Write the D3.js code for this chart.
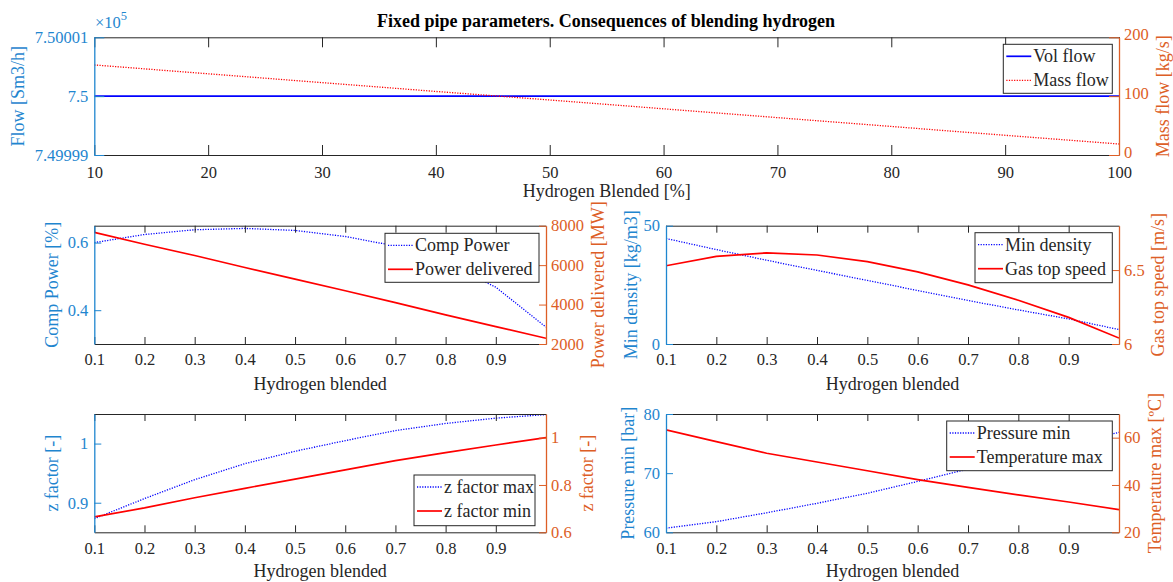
<!DOCTYPE html>
<html><head><meta charset="utf-8">
<script src="https://cdn.jsdelivr.net/npm/d3@7/dist/d3.min.js"></script>
<style>
body{margin:0;background:#fff;}
svg{font-family:"Liberation Serif","Times New Roman",serif;display:block;}
</style></head><body>
<svg id="c" width="1173" height="582"></svg>
<script>
// ---------- data ----------
const title = "Fixed pipe parameters. Consequences of blending hydrogen";
const pctBlended = [10, 20, 30, 40, 50, 60, 70, 80, 90, 100];
const pctTicks = [10, 20, 30, 40, 50, 60, 70, 80, 90, 100];
const volFlow = [750000, 750000, 750000, 750000, 750000, 750000, 750000, 750000, 750000, 750000];
const massFlow = [153, 138, 123, 108, 93.5, 78.5, 63.5, 48.5, 33.5, 18.7];
const flowTicks = [7.49999, 7.5, 7.50001];
const massTicks = [0, 100, 200];

const h2Frac = [0.1, 0.2, 0.3, 0.4, 0.5, 0.6, 0.7, 0.8, 0.9, 1.0];
const fracTicks = [0.1, 0.2, 0.3, 0.4, 0.5, 0.6, 0.7, 0.8, 0.9];

const compPower = [0.600, 0.624, 0.638, 0.642, 0.636, 0.618, 0.590, 0.540, 0.468, 0.350];
const powerDelivered = [7665, 7060, 6490, 5880, 5290, 4700, 4100, 3480, 2880, 2290];
const compTicks = [0.4, 0.6];
const powerTicks = [2000, 4000, 6000, 8000];

const minDensity = [44.6, 39.9, 35.4, 31.1, 26.9, 22.6, 18.4, 14.4, 10.6, 6.1];
const gasTopSpeed = [6.529, 6.593, 6.616, 6.602, 6.557, 6.488, 6.400, 6.296, 6.180, 6.040];
const densTicks = [0, 50];
const speedTicks = [6, 6.5];

const zMax = [0.873, 0.907, 0.939, 0.966, 0.987, 1.005, 1.022, 1.034, 1.043, 1.049];
const zMin = [0.665, 0.703, 0.746, 0.786, 0.825, 0.864, 0.903, 0.937, 0.969, 1.000];
const zLeftTicks = [0.9, 1];
const zRightTicks = [0.6, 0.8, 1];

const pressureMin = [60.7, 61.8, 63.3, 64.9, 66.6, 68.6, 70.7, 72.7, 74.8, 76.9];
const temperatureMax = [63.3, 58.3, 53.4, 49.7, 46.0, 42.3, 39.0, 35.8, 32.8, 29.6];
const presTicks = [60, 70, 80];
const tempTicks = [20, 40, 60];

// ---------- styles ----------
const DARK = "#262626";
const LBLUE = "#1f86cf";
const ORANGE = "#dd5e26";
const BLUE = "#0000ff";
const RED = "#ff0000";
const TICKFS = 16.5, LABELFS = 18, LEGFS = 18;

const svg = d3.select("#c");
let clipId = 0;

function panel(p) {
  const g = svg.append("g");
  const xs = d3.scaleLinear().domain(p.xDomain).range([p.x0, p.x1]);
  const yl = d3.scaleLinear().domain(p.left.domain).range([p.y1, p.y0]);
  const yr = d3.scaleLinear().domain(p.right.domain).range([p.y1, p.y0]);
  const tl = p.tickLen;

  const id = "clip" + (clipId++);
  svg.append("clipPath").attr("id", id).append("rect")
    .attr("x", p.x0).attr("y", p.y0).attr("width", p.x1 - p.x0).attr("height", p.y1 - p.y0);

  const lg = g.append("g").attr("clip-path", `url(#${id})`);
  p.series.forEach(s => {
    const ys = s.axis === "left" ? yl : yr;
    const line = d3.line().x((d, i) => xs(s.x[i])).y(d => ys(d));
    lg.append("path").datum(s.y).attr("d", line)
      .attr("fill", "none").attr("stroke", s.color)
      .attr("stroke-width", s.dash ? 1.3 : 1.7)
      .attr("stroke-dasharray", s.dash ? "1.2,1.4" : null);
  });

  const xb = g.append("g").attr("transform", `translate(0,${p.y1})`)
    .call(d3.axisBottom(xs).tickValues(p.xTicks).tickFormat(d => String(d))
      .tickSizeInner(-tl).tickSizeOuter(0).tickPadding(p.xPad || 9.5));
  xb.selectAll("path,line").attr("stroke", DARK);
  xb.selectAll("text").attr("fill", DARK).style("font-size", TICKFS + "px").style("font-family", "Liberation Serif");
  const xt = g.append("g").attr("transform", `translate(0,${p.y0})`)
    .call(d3.axisTop(xs).tickValues(p.xTicks).tickFormat("").tickSizeInner(-tl).tickSizeOuter(0));
  xt.selectAll("path,line").attr("stroke", DARK);

  const ya = g.append("g").attr("transform", `translate(${p.x0},0)`)
    .call(d3.axisLeft(yl).tickValues(p.left.ticks).tickFormat(d => String(d))
      .tickSizeInner(-tl).tickSizeOuter(0).tickPadding(6));
  ya.selectAll("path,line").attr("stroke", LBLUE);
  ya.select("path").attr("stroke-width", 1.3);
  ya.selectAll("text").attr("fill", LBLUE).style("font-size", TICKFS + "px").style("font-family", "Liberation Serif");
  const yb = g.append("g").attr("transform", `translate(${p.x1},0)`)
    .call(d3.axisRight(yr).tickValues(p.right.ticks).tickFormat(d => String(d))
      .tickSizeInner(-tl).tickSizeOuter(0).tickPadding(5));
  yb.selectAll("path,line").attr("stroke", ORANGE);
  yb.select("path").attr("stroke-width", 1.3);
  yb.selectAll("text").attr("fill", ORANGE).style("font-size", TICKFS + "px").style("font-family", "Liberation Serif");
  if (p.rightDy !== undefined) yb.selectAll("text").attr("dy", p.rightDy);

  g.append("text").attr("x", (p.x0 + p.x1) / 2).attr("y", p.xLabelY)
    .attr("text-anchor", "middle").attr("fill", DARK).style("font-size", LABELFS + "px").text(p.xLabel);
  const cy = (p.y0 + p.y1) / 2;
  g.append("text").attr("transform", `translate(${p.left.labelX},${cy}) rotate(-90)`)
    .attr("text-anchor", "middle").attr("dy", "0.35em").attr("fill", LBLUE)
    .style("font-size", LABELFS + "px").text(p.left.label);
  g.append("text").attr("transform", `translate(${p.right.labelX},${cy}) rotate(-90)`)
    .attr("text-anchor", "middle").attr("dy", "0.35em").attr("fill", ORANGE)
    .style("font-size", LABELFS + "px").text(p.right.label);

  const L = p.legend;
  const leg = g.append("g");
  leg.append("rect").attr("x", L.x).attr("y", L.y).attr("width", L.w).attr("height", L.h)
    .attr("fill", "#fff").attr("stroke", DARK).attr("stroke-width", 1);
  p.series.forEach((s, i) => {
    const ry = L.y + 12 + i * 24;
    leg.append("line").attr("x1", L.x + 3).attr("x2", L.x + 28).attr("y1", ry).attr("y2", ry)
      .attr("stroke", s.color).attr("stroke-width", s.dash ? 1.3 : 1.7)
      .attr("stroke-dasharray", s.dash ? "1.2,1.4" : null);
    leg.append("text").attr("x", L.x + 30).attr("y", ry).attr("dy", "0.33em")
      .attr("fill", DARK).style("font-size", LEGFS + "px").text(s.name);
  });
  return {xs, yl, yr, g};
}

svg.append("text").attr("x", 606).attr("y", 27).attr("text-anchor", "middle")
  .attr("fill", "#000").style("font-weight", "bold").style("font-size", "18px").text(title);

panel({
  x0: 94.3, x1: 1119, y0: 37.3, y1: 155, tickLen: 10, xPad: 11, rightDy: "0.16em",
  xDomain: [10, 100], xTicks: pctTicks, xLabel: "Hydrogen Blended [%]", xLabelY: 197,
  left: {domain: [7.49999, 7.50001], ticks: flowTicks, label: "Flow [Sm3/h]", labelX: 18},
  right: {domain: [0, 200], ticks: massTicks, label: "Mass flow [kg/s]", labelX: 1163},
  series: [
    {x: pctBlended, y: volFlow.map(v => v / 1e5), axis: "left", color: BLUE, dash: false, name: "Vol flow"},
    {x: pctBlended, y: massFlow, axis: "right", color: RED, dash: true, name: "Mass flow"}
  ],
  legend: {x: 1003.3, y: 44.3, w: 109, h: 49}
});
const ex = svg.append("text").attr("x", 95).attr("y", 28).attr("fill", LBLUE).style("font-size", "16.5px");
ex.append("tspan").text("\u00d710");
ex.append("tspan").attr("dy", -8).style("font-size", "12.5px").text("5");

panel({
  x0: 94.3, x1: 546, y0: 225.7, y1: 344, tickLen: 7,
  xDomain: [0.1, 1.0], xTicks: fracTicks, xLabel: "Hydrogen blended", xLabelY: 390,
  left: {domain: [0.3, 0.65], ticks: compTicks, label: "Comp Power [%]", labelX: 52},
  right: {domain: [2000, 8000], ticks: powerTicks, label: "Power delivered [MW]", labelX: 598},
  series: [
    {x: h2Frac, y: compPower, axis: "left", color: BLUE, dash: true, name: "Comp Power"},
    {x: h2Frac, y: powerDelivered, axis: "right", color: RED, dash: false, name: "Power delivered"}
  ],
  legend: {x: 385, y: 233.3, w: 154, h: 49}
});

panel({
  x0: 666, x1: 1119, y0: 225.7, y1: 344, tickLen: 7,
  xDomain: [0.1, 1.0], xTicks: fracTicks, xLabel: "Hydrogen blended", xLabelY: 390,
  left: {domain: [0, 50], ticks: densTicks, label: "Min density [kg/m3]", labelX: 631},
  right: {domain: [6, 6.8], ticks: speedTicks, label: "Gas top speed [m/s]", labelX: 1158},
  series: [
    {x: h2Frac, y: minDensity, axis: "left", color: BLUE, dash: true, name: "Min density"},
    {x: h2Frac, y: gasTopSpeed, axis: "right", color: RED, dash: false, name: "Gas top speed"}
  ],
  legend: {x: 975, y: 232.7, w: 137.3, h: 50}
});

panel({
  x0: 94.3, x1: 546, y0: 414, y1: 532.3, tickLen: 7,
  xDomain: [0.1, 1.0], xTicks: fracTicks, xLabel: "Hydrogen blended", xLabelY: 577,
  left: {domain: [0.85, 1.05], ticks: zLeftTicks, label: "z factor [-]", labelX: 52},
  right: {domain: [0.6, 1.1], ticks: zRightTicks, label: "z factor [-]", labelX: 587},
  series: [
    {x: h2Frac, y: zMax, axis: "left", color: BLUE, dash: true, name: "z factor max"},
    {x: h2Frac, y: zMin, axis: "right", color: RED, dash: false, name: "z factor min"}
  ],
  legend: {x: 414, y: 475, w: 121, h: 50.7}
});

panel({
  x0: 666, x1: 1119, y0: 414, y1: 532.3, tickLen: 7,
  xDomain: [0.1, 1.0], xTicks: fracTicks, xLabel: "Hydrogen blended", xLabelY: 577,
  left: {domain: [60, 80], ticks: presTicks, label: "Pressure min [bar]", labelX: 628},
  right: {domain: [20, 70], ticks: tempTicks, label: "Temperature max [\u00baC]", labelX: 1155},
  series: [
    {x: h2Frac, y: pressureMin, axis: "left", color: BLUE, dash: true, name: "Pressure min"},
    {x: h2Frac, y: temperatureMax, axis: "right", color: RED, dash: false, name: "Temperature max"}
  ],
  legend: {x: 946.7, y: 421, w: 165.6, h: 49.7}
});
</script>
</body></html>
